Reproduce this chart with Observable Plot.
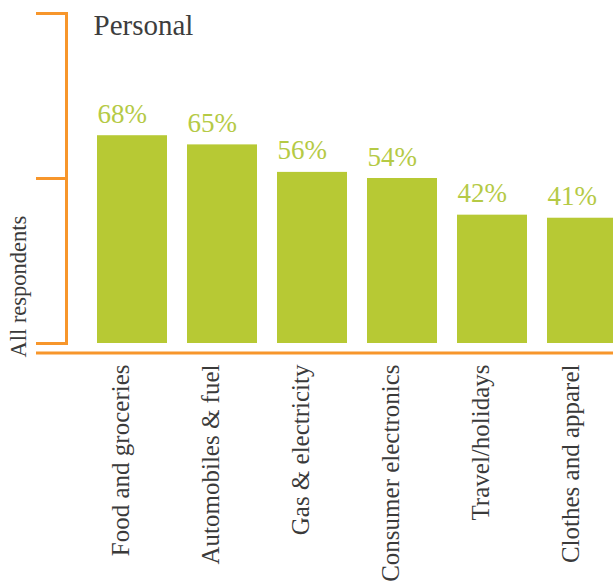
<!DOCTYPE html>
<html>
<head>
<meta charset="utf-8">
<style>
  html, body { margin: 0; padding: 0; background: #fff; }
</style>
<script src="https://cdn.jsdelivr.net/npm/d3@7"></script>
<script src="https://cdn.jsdelivr.net/npm/@observablehq/plot@0.6"></script>
</head>
<body>
<div id="chart"></div>
<script>
const categories = ["Food and groceries", "Automobiles & fuel", "Gas & electricity", "Consumer electronics", "Travel/holidays", "Clothes and apparel"];
const values = [68, 65, 56, 54, 42, 41];
const title = "Personal";
const yLabel = "All respondents";
const bracketTicks = [0, 54, 108];

const data = categories.map((c, i) => ({category: c, value: values[i]}));

const orange = "#f7962b";
const green = "#b7c934";
const labelGreen = "#b5ca45";
const FONT = "Liberation Serif, Times New Roman, Tinos, serif";

const chart = Plot.plot({
  width: 613,
  height: 586,
  marginLeft: 66,
  marginRight: 0,
  marginTop: 13,
  marginBottom: 243,
  style: {fontFamily: FONT, fontSize: "20px"},
  x: {domain: categories, range: [66, 647], paddingInner: 0.2274, paddingOuter: 0.32},
  y: {domain: [0, 108]},
  marks: [
    Plot.barY(data, {x: "category", y: "value", fill: green}),
    Plot.text(data, {x: "category", y: "value", text: d => d.value + "%", textAnchor: "start", lineAnchor: "bottom", dx: -35, dy: -13, fill: labelGreen, fontSize: 27, fontFamily: FONT}),
    Plot.frame({anchor: "left", stroke: orange, strokeWidth: 3}),
    Plot.axisY({ticks: bracketTicks, tickSize: 30, tickFormat: () => "", stroke: orange, strokeWidth: 3, strokeOpacity: 1, label: null}),
    Plot.ruleY([0], {dy: 9.5, insetLeft: -30, stroke: orange, strokeWidth: 3}),
    Plot.axisX({tickRotate: -90, tickSize: 0, tickPadding: 21, dx: -12, fontSize: 25, fontFamily: FONT, fill: "#3a3a3a", label: null}),
    Plot.text([title], {frameAnchor: "top-left", dx: 27, dy: 21, lineAnchor: "bottom", textAnchor: "start", fontSize: 29, fill: "#3d3d3d", fontFamily: FONT}),
    Plot.text([yLabel], {frameAnchor: "bottom-left", dx: -41, dy: 14, rotate: -90, textAnchor: "start", lineAnchor: "bottom", fontSize: 22.5, fill: "#3a3a3a", fontFamily: FONT})
  ]
});
chart.style.maxWidth = "none";
document.getElementById("chart").append(chart);
</script>
</body>
</html>
